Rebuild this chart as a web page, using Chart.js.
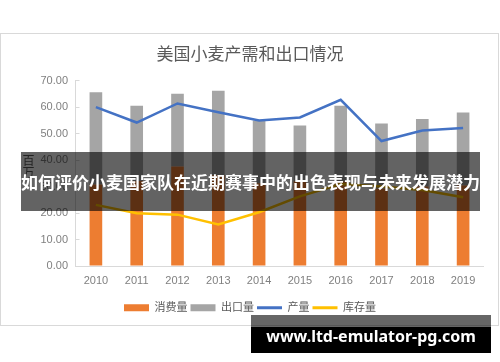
<!DOCTYPE html>
<html>
<head>
<meta charset="utf-8">
<script src="https://cdn.jsdelivr.net/npm/chart.js"></script>
<style>
  html, body { margin: 0; padding: 0; background: #fff; }
  #wrap { position: relative; width: 500px; height: 362px; overflow: hidden; }
  #frame { position: absolute; left: 0; top: 33px; width: 497px; height: 291px; border: 1px solid #d9d9d9; }
  #chart { position: absolute; left: 0; top: 0; }
  #unit { position: absolute; left: 20px; top: 154px; writing-mode: vertical-rl; font: 12px 'Noto Sans CJK SC', sans-serif; color: #595959; }
  #banner { position: absolute; left: 21px; top: 152px; width: 459px; height: 59px; background: rgba(0,0,0,0.61);
            color: #fff; font: bold 17px 'Noto Sans CJK SC', sans-serif; line-height: 59px; text-align: center; white-space: nowrap; }
  #mark { position: absolute; left: 251px; top: 315px; width: 240px; height: 38px;
          background: linear-gradient(rgba(0,0,0,0.6) 0 12px, #000 12px);
          color: #fff; font: bold 16px 'Noto Sans', sans-serif; line-height: 43px; text-align: center; white-space: nowrap; }
</style>
</head>
<body>
<div id="wrap">
  <div id="frame"></div>
  <canvas id="chart" width="500" height="362"></canvas>
  <div id="unit">百万</div>
  <div id="banner">如何评价小麦国家队在近期赛事中的出色表现与未来发展潜力</div>
  <div id="mark">www.ltd-emulator-pg.com</div>
</div>
<script>
// 美国小麦产需和出口情况（百万吨）
const years = ['2010', '2011', '2012', '2013', '2014', '2015', '2016', '2017', '2018', '2019'];
const consumption = [30.8, 32.1, 37.6, 34.3, 31.3, 32.0, 31.9, 29.2, 30.0, 30.4];
const exportVol = [34.8, 28.4, 27.5, 31.9, 23.7, 21.1, 28.6, 24.6, 25.5, 27.6];
const production = [60.0, 54.2, 61.4, 58.1, 55.0, 56.1, 62.8, 47.2, 51.2, 52.1];
const stocks = [23.1, 19.9, 19.4, 15.7, 20.3, 26.3, 31.0, 30.0, 28.7, 26.0];
const yMax = 70;
const yStep = 10;

Chart.defaults.font.family = "'Liberation Sans', 'Noto Sans CJK SC', sans-serif";
Chart.defaults.color = '#808080';

new Chart(document.getElementById('chart'), {
  type: 'bar',
  data: {
    labels: years,
    datasets: [
      { label: '消费量', data: consumption, backgroundColor: '#ED7D31', stack: 'bar', order: 2,
        barPercentage: 0.31, categoryPercentage: 1 },
      { label: '出口量', data: exportVol, backgroundColor: '#A5A5A5', stack: 'bar', order: 2,
        barPercentage: 0.31, categoryPercentage: 1 },
      { label: '产量', type: 'line', data: production, borderColor: '#4472C4', backgroundColor: '#4472C4',
        borderWidth: 2.5, pointRadius: 0, tension: 0, stack: 'p', order: 1 },
      { label: '库存量', type: 'line', data: stocks, borderColor: '#FFC000', backgroundColor: '#FFC000',
        borderWidth: 2.5, pointRadius: 0, tension: 0, stack: 'k', order: 1 }
    ]
  },
  options: {
    responsive: false,
    animation: false,
    layout: { padding: { top: 33, left: 16.5, right: 16.5, bottom: 38.8 } },
    plugins: {
      title: { display: true, text: '美国小麦产需和出口情况', color: '#595959',
               font: { size: 17, weight: 'normal', family: "'Noto Sans CJK SC', sans-serif" },
               padding: { top: 10.3, bottom: 17 } },
      legend: {
        position: 'bottom',
        labels: {
          color: '#595959', font: { size: 11 }, usePointStyle: true, pointStyleWidth: 25, boxHeight: 7, padding: 3,
          generateLabels: chart => chart.data.datasets.map((ds, i) => ({
            text: ds.label,
            fillStyle: ds.type === 'line' ? ds.borderColor : ds.backgroundColor,
            strokeStyle: ds.type === 'line' ? ds.borderColor : ds.backgroundColor,
            lineWidth: ds.type === 'line' ? 3 : 0,
            pointStyle: ds.type === 'line' ? 'line' : 'rect',
            fontColor: '#595959',
            hidden: false,
            datasetIndex: i
          }))
        }
      },
      tooltip: { enabled: false }
    },
    scales: {
      x: {
        stacked: true,
        grid: { display: false, drawTicks: false },
        border: { color: '#d9d9d9', width: 1 },
        ticks: { font: { size: 11 }, padding: 8, color: '#808080' },
        afterFit: s => { s.height = 33.2; }
      },
      y: {
        stacked: true,
        min: 0, max: yMax,
        grid: { drawOnChartArea: false, drawTicks: true, tickLength: -4, color: '#d9d9d9' },
        border: { color: '#d9d9d9', width: 1 },
        ticks: { stepSize: yStep, font: { size: 11 }, padding: 11.5, color: '#808080',
                 callback: v => v.toFixed(2) },
        afterFit: s => { s.width = 59; }
      }
    }
  }
});
</script>
</body>
</html>
